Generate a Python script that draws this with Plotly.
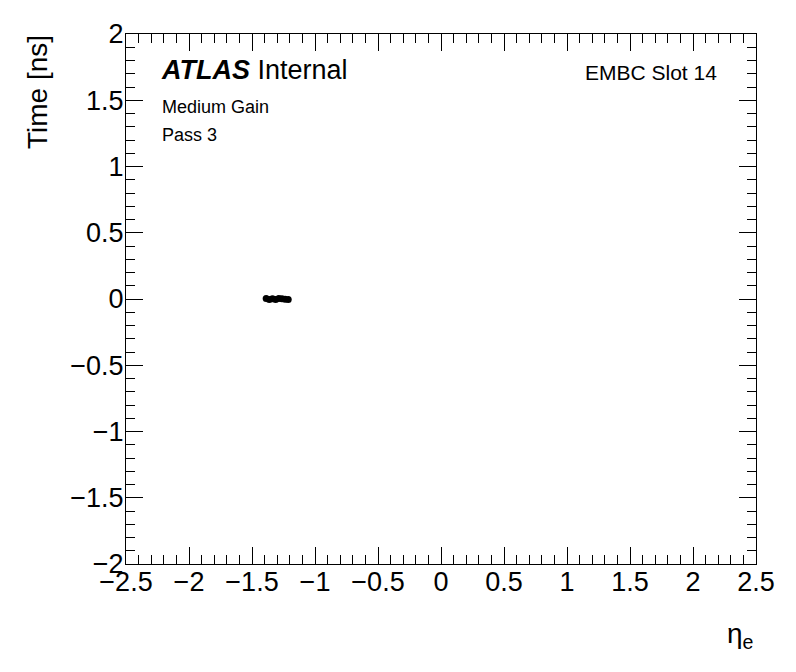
import plotly.graph_objects as go

eta = [-1.3875, -1.3625, -1.3375, -1.3125, -1.2875, -1.2625, -1.2375, -1.2125]
time_ns = [0.004, -0.003, 0.002, -0.004, 0.003, 0.001, -0.002, -0.004]

FONT = "Liberation Sans, Arial, Helvetica, sans-serif"

fig = go.Figure()
fig.add_trace(go.Scatter(
    x=eta, y=time_ns, mode="markers",
    marker=dict(color="black", size=7, symbol="circle"),
    showlegend=False,
))

L, R, T, B = 126, 40, 34, 108
W, H = 796, 672
PW, PH = W - L - R, H - T - B

def px(x):
    return (x - L) / PW

def py(y):
    return (H - B - y) / PH

axis_common = dict(
    showgrid=False, zeroline=False, showline=True, linecolor="black", linewidth=1,
    mirror="allticks", ticks="inside", ticklen=17, tickwidth=1, tickcolor="black",
    tickfont=dict(family=FONT, size=27, color="black"),
    minor=dict(ticks="inside", ticklen=9, tickwidth=1, tickcolor="black", dtick=0.1, showgrid=False),
    dtick=0.5, tick0=0,
)

fig.update_xaxes(range=[-2.5, 2.5], **axis_common, ticklabelstandoff=-6)
fig.update_yaxes(range=[-2, 2], **axis_common, ticklabelstandoff=-4)

annotations = [
    dict(text="<b><i>ATLAS</i></b> Internal", x=px(159), y=py(70), xanchor="left", yanchor="middle",
         font=dict(family=FONT, size=27, color="black")),
    dict(text="Medium Gain", x=px(160), y=py(107), xanchor="left", yanchor="middle",
         font=dict(family=FONT, size=18, color="black")),
    dict(text="Pass 3", x=px(160), y=py(135), xanchor="left", yanchor="middle",
         font=dict(family=FONT, size=18, color="black")),
    dict(text="EMBC Slot 14", x=px(583), y=py(72), xanchor="left", yanchor="middle",
         font=dict(family=FONT, size=21, color="black")),
    dict(text="Time [ns]", x=px(38), y=py(33), xanchor="center", yanchor="top", textangle=-90,
         font=dict(family=FONT, size=28, color="black")),
    dict(text="η<sub>e</sub>", x=px(740), y=py(635), xanchor="center", yanchor="middle",
         font=dict(family=FONT, size=28, color="black")),
]
for a in annotations:
    a.update(xref="paper", yref="paper", showarrow=False)

fig.update_layout(
    width=W, height=H,
    margin=dict(l=L, r=R, t=T, b=B, pad=0),
    paper_bgcolor="white", plot_bgcolor="white",
    annotations=annotations,
)

fig.write_html("out.html", config={"displayModeBar": False},
               post_script="document.body.style.margin='0';")
